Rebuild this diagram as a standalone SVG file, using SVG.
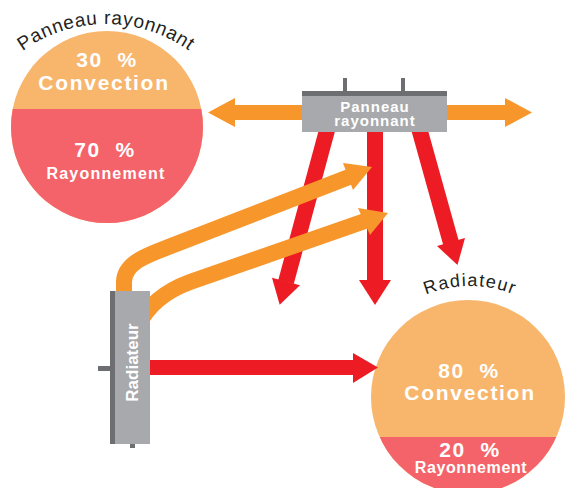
<svg xmlns="http://www.w3.org/2000/svg" width="565" height="488" viewBox="0 0 565 488">
<style>
.lbl{font-family:"Liberation Sans",Arial,sans-serif;fill:#231f20}
.w{font-family:"Liberation Sans",Arial,sans-serif;fill:#ffffff;font-weight:bold;text-anchor:middle}
.big{font-size:21px;letter-spacing:1.7px}
.pct{word-spacing:7px}
.small{font-size:16px;letter-spacing:1.2px}
.conv{fill:#f8b66c}
.ray{fill:#f4636a}
.red{fill:none;stroke:#ed1c24;stroke-width:16}
.redh{fill:#ed1c24}
.org{fill:none;stroke:#f7962b;stroke-width:16}
.orgh{fill:#f7962b}
.dev{fill:#a7a9ac}
.dark{fill:#6d6e71}
</style>
<defs>
<clipPath id="cl"><circle cx="107" cy="127" r="96"/></clipPath>
<clipPath id="cr"><circle cx="468" cy="397" r="97"/></clipPath>
<path id="arcL" d="M-36,166 A142,142 0 0,1 248,166"/>
<path id="arcR" d="M353,403 A117,117 0 0,1 587,403"/>
</defs>

<g id="circle-panneau">
<circle class="conv" cx="107" cy="127" r="96"/>
<rect class="ray" x="0" y="109" width="220" height="120" clip-path="url(#cl)"/>
<text class="lbl" font-size="19" letter-spacing="0.7"><textPath href="#arcL" startOffset="50%" text-anchor="middle">Panneau rayonnant</textPath></text>
<text class="w big pct" x="107" y="67">30 %</text>
<text class="w big" x="104" y="90">Convection</text>
<text class="w big pct" x="105" y="157">70 %</text>
<text class="w small" x="106" y="179">Rayonnement</text>
</g>

<g id="circle-radiateur">
<circle class="conv" cx="468" cy="397" r="97"/>
<rect class="ray" x="360" y="437" width="210" height="60" clip-path="url(#cr)"/>
<text class="lbl" font-size="18" letter-spacing="1.4"><textPath href="#arcR" startOffset="50%" text-anchor="middle">Radiateur</textPath></text>
<text class="w big pct" x="469" y="378">80 %</text>
<text class="w big" x="470" y="400">Convection</text>
<text class="w big pct" x="470" y="457">20 %</text>
<text class="w" x="471" y="473" font-size="16" letter-spacing="0.6">Rayonnement</text>
</g>

<g id="connectors">
<path class="red" d="M327.6,128 L286,282"/>
<polygon class="redh" points="272,277.7 300,285.3 279.7,304.7"/>
<path class="red" d="M375,128 L375,281"/>
<polygon class="redh" points="359,280 391,280 375,305"/>
<path class="red" d="M419,128 L451,243"/>
<polygon class="redh" points="437,245.9 465,238.1 457.5,265.1"/>
<path class="red" d="M148,367.5 L354,367.5" style="stroke-width:15"/>
<polygon class="redh" points="353,353 378,367.5 353,383"/>
<path class="org" d="M304,112.5 L234,112.5" style="stroke-width:15"/>
<polygon class="orgh" points="235,98 208,112.5 235,127"/>
<path class="org" d="M445,112.5 L506,112.5" style="stroke-width:15"/>
<polygon class="orgh" points="505,98 532,112.5 505,127"/>
<path class="org" d="M124,296 L124,282 C124,262 150,254 171,246 L349,177"/>
<polygon class="orgh" points="343,163 372,167 353,190"/>
<path class="org" d="M138,326 Q152,296 190,282 L365,221"/>
<polygon class="orgh" points="358,208 388,213 370,235"/>
</g>

<g id="panneau-rayonnant">
<rect class="dark" x="343" y="78" width="4" height="14"/>
<rect class="dark" x="401" y="78" width="4" height="14"/>
<rect class="dev" x="302" y="91" width="145" height="41"/>
<rect class="dark" x="302" y="91" width="145" height="5"/>
<text class="w" x="375" y="111.5" font-size="15" letter-spacing="1">Panneau</text>
<text class="w" x="375" y="126" font-size="15" letter-spacing="1">rayonnant</text>
</g>

<g id="radiateur">
<rect class="dark" x="98" y="366" width="13" height="5"/>
<rect class="dark" x="130" y="443" width="5" height="5"/>
<rect class="dev" x="110" y="291" width="40" height="153"/>
<rect class="dark" x="110" y="291" width="5" height="153"/>
<text class="w" transform="translate(138,362.5) rotate(-90)" font-size="17">Radiateur</text>
</g>
</svg>
